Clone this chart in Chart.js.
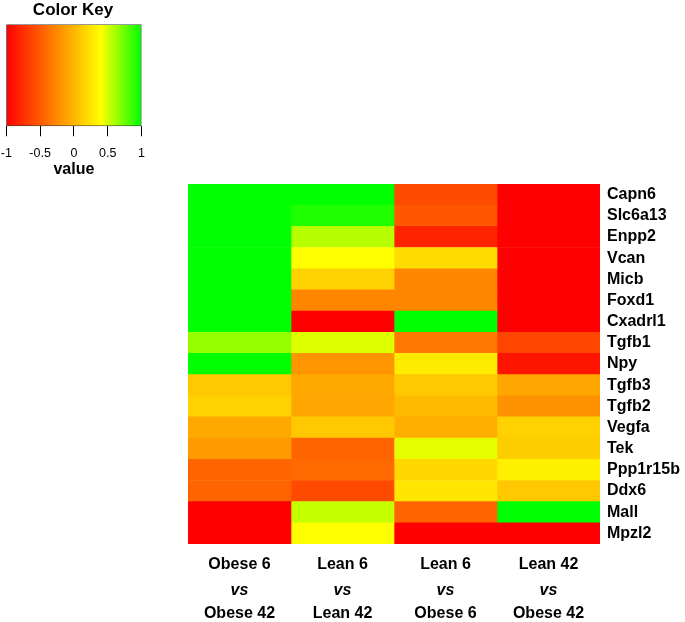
<!DOCTYPE html>
<html>
<head>
<meta charset="utf-8">
<script src="https://cdn.jsdelivr.net/npm/chart.js@4"></script>
<style>
  html, body { margin: 0; padding: 0; background: #fff; }
  #wrap { position: relative; width: 685px; height: 622px; overflow: hidden; }
  #heat { position: absolute; left: 0; top: 0; }
  #key { position: absolute; left: -10px; top: 0; }
</style>
</head>
<body>
<div id="wrap">
  <canvas id="heat" width="685" height="622"></canvas>
  <canvas id="key" width="166" height="178"></canvas>
</div>
<script>
// ---- data ----------------------------------------------------
const genes = ['Capn6', 'Slc6a13', 'Enpp2', 'Vcan', 'Micb', 'Foxd1', 'Cxadrl1', 'Tgfb1', 'Npy',
    'Tgfb3', 'Tgfb2', 'Vegfa', 'Tek', 'Ppp1r15b', 'Ddx6', 'Mall', 'Mpzl2'];

const comparisons = [
    ['Obese 6', 'vs', 'Obese 42'],
    ['Lean 6', 'vs', 'Lean 42'],
    ['Lean 6', 'vs', 'Obese 6'],
    ['Lean 42', 'vs', 'Obese 42']
];

const obese6VsObese42 = [1, 1, 1, 1, 1, 1, 1, 0.65, 1, 0.10, 0.15, -0.07, -0.15, -0.45, -0.45, -1, -1];
const lean6VsLean42   = [1, 0.93, 0.57, 0.40, 0.15, -0.26, -1, 0.48, -0.18, -0.07, -0.09, 0.10, -0.45, -0.42, -0.59, 0.54, 0.40];
const lean6VsObese6   = [-0.59, -0.53, -0.81, 0.21, -0.26, -0.26, 1, -0.34, 0.29, 0.10, 0.02, -0.04, 0.46, 0.18, 0.26, -0.45, -1];
const lean42VsObese42 = [-1, -1, -1, -1, -1, -1, -1, -0.62, -0.89, -0.09, -0.20, 0.15, 0.13, 0.32, 0.10, 1, -1];
const columns = [obese6VsObese42, lean6VsLean42, lean6VsObese6, lean42VsObese42];

// colour key
const keyStops = [-1, 0.4, 1];
const keyColors = [[255, 0, 0], [255, 255, 0], [0, 255, 0]];
const keyTicks = [-1, -0.5, 0, 0.5, 1];

// ---- helpers -------------------------------------------------
Chart.defaults.font.family = "'Liberation Sans', Arial, sans-serif";
Chart.defaults.color = '#000';

const rgb = c => `rgb(${c.map(Math.round).join(',')})`;

function valueColor(v) {
    for (let i = 1; i < keyStops.length; i++) {
        if (v <= keyStops[i]) {
            const t = (v - keyStops[i - 1]) / (keyStops[i] - keyStops[i - 1]);
            const a = keyColors[i - 1], b = keyColors[i];
            return rgb(a.map((x, k) => x + (b[k] - x) * t));
        }
    }
    return rgb(keyColors[keyColors.length - 1]);
}

// ── column labels under the heatmap (with italic "vs") ───────
const columnLabels = {
    id: 'columnLabels',
    afterDraw(chart) {
        const { ctx } = chart;
        const x = chart.scales.x;
        const rows = [565, 591, 614];
        ctx.save();
        ctx.textAlign = 'center';
        ctx.textBaseline = 'middle';
        ctx.fillStyle = '#000';
        comparisons.forEach((lines, i) => {
            const cx = x.getPixelForValue(i + 0.5);
            lines.forEach((txt, j) => {
                ctx.font = (j === 1 ? 'italic ' : '') + "bold 16px 'Liberation Sans', Arial, sans-serif";
                ctx.fillText(txt, cx, rows[j]);
            });
        });
        ctx.restore();
    }
};

// ── heatmap: floating bars, one dataset per comparison ───────
new Chart(document.getElementById('heat'), {
    type: 'bar',
    data: {
        labels: genes,
        datasets: columns.map((vals, i) => ({
            data: vals.map(() => [i, i + 1]),
            backgroundColor: vals.map(valueColor),
            borderWidth: 0,
            barPercentage: 1,
            categoryPercentage: 1,
            grouped: false
        }))
    },
    options: {
        indexAxis: 'y',
        responsive: false,
        animation: false,
        layout: { padding: { left: 188, top: 184, right: 0, bottom: 78 } },
        plugins: { legend: { display: false }, tooltip: { enabled: false } },
        scales: {
            x: { type: 'linear', min: 0, max: 4, display: false },
            y: {
                position: 'right',
                grid: { display: false, drawTicks: false, tickLength: 0 },
                border: { display: false },
                ticks: { padding: 7, autoSkip: false, font: { size: 16, weight: 'bold' }, color: '#000' },
                afterFit: s => { s.width = 85; }
            }
        }
    },
    plugins: [columnLabels]
});

// ── colour key: one gradient bar over the value axis ─────────
new Chart(document.getElementById('key'), {
    type: 'bar',
    data: {
        labels: [''],
        datasets: [{
            data: [[keyTicks[0], keyTicks[keyTicks.length - 1]]],
            backgroundColor: ctx => {
                const chart = ctx.chart;
                const x = chart.scales.x;
                if (!chart.chartArea || !x) return null;
                const lo = keyTicks[0], hi = keyTicks[keyTicks.length - 1];
                const g = chart.ctx.createLinearGradient(x.getPixelForValue(lo), 0, x.getPixelForValue(hi), 0);
                keyStops.forEach((s, i) => g.addColorStop((s - lo) / (hi - lo), rgb(keyColors[i])));
                return g;
            },
            borderColor: '#333',
            borderWidth: 1,
            borderSkipped: false,
            barPercentage: 1,
            categoryPercentage: 1
        }]
    },
    options: {
        indexAxis: 'y',
        responsive: false,
        animation: false,
        layout: { padding: { left: 14.5, right: 14.5, top: 0, bottom: 0 } },
        plugins: {
            legend: { display: false },
            tooltip: { enabled: false },
            title: {
                display: true,
                text: 'Color Key',
                font: { size: 17, weight: 'bold' },
                color: '#000',
                padding: { top: 0, bottom: 4 }
            }
        },
        scales: {
            x: {
                type: 'linear',
                min: -1,
                max: 1,
                afterBuildTicks: s => { s.ticks = keyTicks.map(v => ({ value: v })); },
                ticks: { font: { size: 12.5, lineHeight: 1 }, color: '#000', padding: 10.75, maxRotation: 0,
                    callback: v => String(v) },
                grid: { drawOnChartArea: false, tickLength: 10, color: '#000' },
                border: { display: false },
                title: { display: true, text: 'value', font: { size: 16, weight: 'bold', lineHeight: 1 },
                    color: '#000', padding: { top: -8.25, bottom: 0 } }
            },
            y: { display: false }
        }
    }
});
</script>
</body>
</html>
